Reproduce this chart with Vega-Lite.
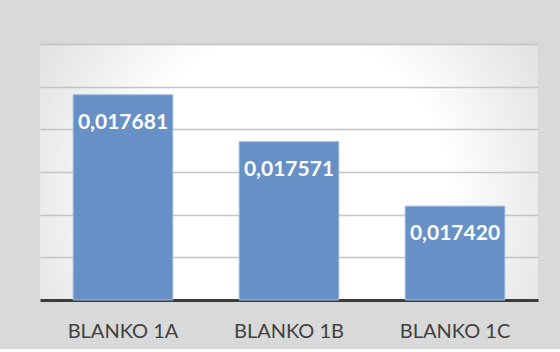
{
  "$schema": "https://vega.github.io/schema/vega-lite/v6.json",
  "width": 498,
  "height": 256,
  "padding": {"left": 40, "top": 44, "right": 22, "bottom": 8},
  "background": "#d9d9d9",
  "config": {
    "view": {
      "stroke": null,
      "fill": {
        "gradient": "radial",
        "x1": 0.5, "y1": 0.55, "r1": 0,
        "x2": 0.5, "y2": 0.55, "r2": 0.72,
        "stops": [
          {"offset": 0, "color": "#ffffff"},
          {"offset": 0.45, "color": "#ffffff"},
          {"offset": 0.75, "color": "#e6e6e6"},
          {"offset": 1, "color": "#d6d6d6"}
        ]
      }
    }
  },
  "data": {
    "values": [
      {"sample": "BLANKO 1A", "value": 0.017681, "label": "0,017681"},
      {"sample": "BLANKO 1B", "value": 0.017571, "label": "0,017571"},
      {"sample": "BLANKO 1C", "value": 0.017420, "label": "0,017420"}
    ]
  },
  "encoding": {
    "x": {
      "field": "sample",
      "type": "nominal",
      "scale": {"paddingInner": 0.4, "paddingOuter": 0.2},
      "axis": {
        "title": null,
        "labelAngle": 0,
        "ticks": false,
        "labelPadding": 21,
        "labelFont": "Lato",
        "labelFontSize": 20,
        "labelColor": "#404040",
        "domainColor": "#3b3b3b",
        "domainWidth": 3
      }
    },
    "y": {
      "field": "value",
      "type": "quantitative",
      "scale": {"domain": [0.0172, 0.0178], "zero": false, "nice": false},
      "axis": {
        "title": null,
        "labels": false,
        "ticks": false,
        "domain": false,
        "values": [0.0173, 0.0174, 0.0175, 0.0176, 0.0177, 0.0178],
        "gridColor": "#c4c4c4",
        "gridWidth": 1.5
      }
    }
  },
  "layer": [
    {
      "mark": {"type": "bar", "color": "#6791c6", "stroke": "#9db9de", "strokeWidth": 1},
      "encoding": {
        "y2": {"datum": 0.0172}
      }
    },
    {
      "mark": {"type": "text", "color": "#ffffff", "font": "Lato", "fontWeight": "bold", "fontSize": 21, "baseline": "middle", "align": "center", "dy": 28},
      "encoding": {
        "text": {"field": "label", "type": "nominal"}
      }
    }
  ]
}
